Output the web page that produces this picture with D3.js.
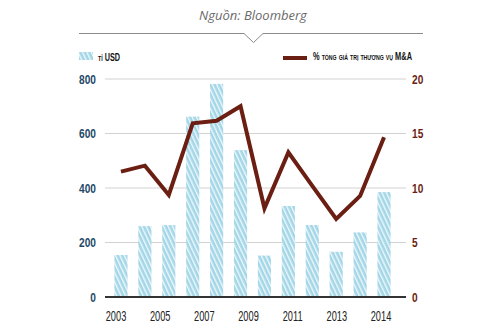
<!DOCTYPE html>
<html>
<head>
<meta charset="utf-8">
<script src="https://cdn.jsdelivr.net/npm/d3@7"></script>
<style>
  body { margin: 0; background: #fff; }
  svg { display: block; }
</style>
</head>
<body>
<svg id="chart" width="500" height="330"></svg>
<script>
const years = ['2003','2004','2005','2006','2007','2008','2009','2010','2011','2012','2013','2014']
const usdValues = [154, 260, 264, 662, 782, 539, 152, 334, 264, 166, 237, 385]
const pctValues = [11.5, 12.05, 9.36, 15.94, 16.17, 17.5, 8.14, 13.27, 10.2, 7.16, 9.27, 14.65]
const xLabels = ['2003','2005','2007','2009','2011','2013','2014']
const leftTicks = [0, 200, 400, 600, 800]
const rightTicks = [0, 5, 10, 15, 20]

const svg = d3.select('#chart')
const plotLeft = 105, plotRight = 406, plotTop = 79, plotBottom = 297
const sans = '"Liberation Sans", Arial, sans-serif'

// hatch for the bars
const defs = svg.append('defs')
const pat = defs.append('pattern')
  .attr('id', 'hatch')
  .attr('patternUnits', 'userSpaceOnUse')
  .attr('width', 4).attr('height', 4)
  .attr('patternTransform', 'rotate(-25)')
pat.append('rect').attr('width', 4).attr('height', 4).attr('fill', '#a3d6e7')
pat.append('rect').attr('x', 0).attr('width', 1.4).attr('height', 4).attr('fill', '#eef8fb')

const x = d3.scaleBand().domain(years).range([109, 396]).paddingInner(0.45).paddingOuter(0.225)
const yL = d3.scaleLinear().domain([0, 800]).range([plotBottom, plotTop])
const yR = d3.scaleLinear().domain([0, 20]).range([plotBottom, plotTop])
const xl = d3.scalePoint().domain(xLabels).range([116, 381])

// source + separator
svg.append('text')
  .attr('x', 253).attr('y', 20)
  .attr('text-anchor', 'middle')
  .style('font-family', '"Open Sans", sans-serif')
  .style('font-style', 'italic')
  .style('font-size', '13px')
  .attr('fill', '#6a6a6a')
  .text('Nguồn: Bloomberg')

svg.append('path')
  .attr('d', 'M79,33.5 H244 L253.5,42.5 L263,33.5 H423')
  .attr('fill', 'none').attr('stroke', '#8a8a8a').attr('stroke-width', 1)

// gridlines
svg.append('g')
  .selectAll('line')
  .data(leftTicks.filter(d => d > 0))
  .join('line')
  .attr('x1', plotLeft).attr('x2', plotRight)
  .attr('y1', d => yL(d)).attr('y2', d => yL(d))
  .attr('stroke', '#d2d2d2').attr('stroke-width', 1)

// bars
svg.append('g')
  .selectAll('rect')
  .data(years)
  .join('rect')
  .attr('x', d => x(d))
  .attr('width', x.bandwidth())
  .attr('y', (d, i) => yL(usdValues[i]))
  .attr('height', (d, i) => yL(0) - yL(usdValues[i]))
  .attr('fill', 'url(#hatch)')

// baseline
svg.append('line')
  .attr('x1', plotLeft).attr('x2', plotRight)
  .attr('y1', plotBottom).attr('y2', plotBottom)
  .attr('stroke', '#333').attr('stroke-width', 2)

// line series
const line = d3.line()
  .x((d, i) => x(years[i]) + x.bandwidth() / 2)
  .y(d => yR(d))
svg.append('path')
  .datum(pctValues)
  .attr('d', line)
  .attr('fill', 'none')
  .attr('stroke', '#6b1e12')
  .attr('stroke-width', 4)
  .attr('stroke-linejoin', 'miter')

// left axis
const leftAxis = svg.append('g')
  .attr('transform', `translate(96,0)`)
  .call(d3.axisLeft(yL).tickValues(leftTicks).tickSize(0).tickPadding(0))
leftAxis.select('.domain').remove()
leftAxis.selectAll('text')
  .style('font-family', sans).style('font-weight', 'bold').style('font-size', '13px')
  .attr('transform', 'scale(0.78,1)')
  .attr('fill', '#1e4868')

// right axis
const rightAxis = svg.append('g')
  .attr('transform', `translate(412,0)`)
  .call(d3.axisRight(yR).tickValues(rightTicks).tickSize(0).tickPadding(0))
rightAxis.select('.domain').remove()
rightAxis.selectAll('text')
  .style('font-family', sans).style('font-weight', 'bold').style('font-size', '13px')
  .attr('transform', 'scale(0.78,1)')
  .attr('fill', '#6b1e12')

// bottom labels
svg.append('g')
  .selectAll('text')
  .data(xLabels)
  .join('text')
  .attr('transform', d => `translate(${xl(d)},321) scale(0.66,1)`)
  .attr('text-anchor', 'middle')
  .style('font-family', sans).style('font-size', '14px')
  .attr('fill', '#222')
  .text(d => d)

// legend
svg.append('rect')
  .attr('x', 79).attr('y', 52).attr('width', 14).attr('height', 8)
  .attr('fill', 'url(#hatch)')
svg.append('text')
  .attr('x', 98).attr('y', 61)
  .attr('textLength', 22).attr('lengthAdjust', 'spacingAndGlyphs')
  .style('font-family', sans).style('font-weight', 'bold').style('font-size', '11px')
  .style('font-variant', 'small-caps')
  .attr('fill', '#111')
  .text('tỉ USD')

svg.append('line')
  .attr('x1', 283).attr('x2', 307).attr('y1', 58).attr('y2', 58)
  .attr('stroke', '#6b1e12').attr('stroke-width', 4)
svg.append('text')
  .attr('x', 313).attr('y', 60)
  .attr('textLength', 99).attr('lengthAdjust', 'spacingAndGlyphs')
  .style('font-family', sans).style('font-weight', 'bold').style('font-size', '10px')
  .style('font-variant', 'small-caps')
  .attr('fill', '#111')
  .text('% tổng giá trị thương vụ M&A')
</script>
</body>
</html>
